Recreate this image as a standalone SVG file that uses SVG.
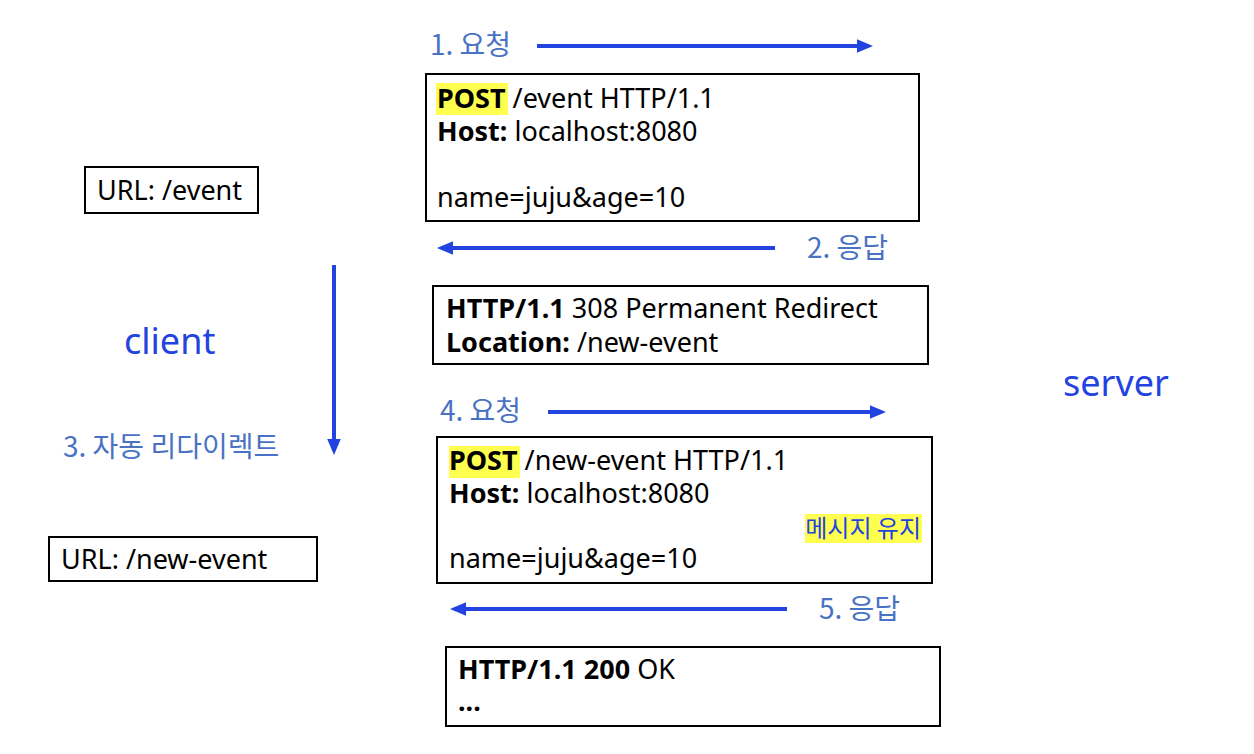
<svg xmlns="http://www.w3.org/2000/svg" width="1254" height="754" viewBox="0 0 1254 754">
<style>
text{font-family:"Noto Sans","Noto Sans CJK KR",sans-serif;}
.box{fill:#fff;stroke:#000;stroke-width:2;}
.t{font-size:27px;fill:#000;}
.b{font-weight:bold;}
.lbl{font-size:28px;fill:#4A72C4;font-family:"Noto Sans CJK KR","Noto Sans",sans-serif;}
.big{font-size:36px;fill:#2343E0;}
.hl{fill:#FFFF50;}
.arr{stroke:#2343E0;stroke-width:4;fill:none;marker-end:url(#ah);}
</style>
<defs>
<marker id="ah" markerWidth="4" markerHeight="3.4" refX="3" refY="1.7" orient="auto" markerUnits="strokeWidth">
<path d="M0,0 L4,1.7 L0,3.4 Z" fill="#2343E0"/>
</marker>
</defs>
<rect width="1254" height="754" fill="#fff"/>
<g id="connectors">
<line class="arr" x1="537" y1="46" x2="869" y2="46"/>
<line class="arr" x1="775" y1="248" x2="441" y2="248"/>
<line class="arr" x1="334" y1="265" x2="334" y2="451"/>
<line class="arr" x1="548" y1="412" x2="882" y2="412"/>
<line class="arr" x1="787" y1="609" x2="454" y2="609"/>
</g>
<g id="label1"><text class="lbl" x="430" y="55">1. 요청</text></g>
<g id="label2"><text class="lbl" x="807" y="258">2. 응답</text></g>
<g id="label3"><text class="lbl" x="63" y="457">3. 자동 리다이렉트</text></g>
<g id="label4"><text class="lbl" x="440" y="421">4. 요청</text></g>
<g id="label5"><text class="lbl" x="819" y="619">5. 응답</text></g>
<g id="client"><text class="big" x="124" y="354">client</text></g>
<g id="server"><text class="big" x="1063" y="396">server</text></g>
<g id="url1">
<rect class="box" x="85" y="167" width="173" height="46"/>
<text class="t" x="97" y="200">URL: /event</text>
</g>
<g id="url2">
<rect class="box" x="49" y="537" width="268" height="44"/>
<text class="t" x="61" y="569">URL: /new-event</text>
</g>
<g id="req1">
<rect class="box" x="426" y="74" width="493" height="147"/>
<rect class="hl" x="436" y="83" width="72" height="32"/>
<text class="t" x="437" y="108"><tspan class="b">POST</tspan> /event HTTP/1.1</text>
<text class="t" x="437" y="141"><tspan class="b">Host:</tspan> localhost:8080</text>
<text class="t" x="437" y="207">name=juju&amp;age=10</text>
</g>
<g id="res1">
<rect class="box" x="433" y="286" width="495" height="78"/>
<text class="t" x="446" y="318"><tspan class="b">HTTP/1.1</tspan> 308 Permanent Redirect</text>
<text class="t" x="446" y="352"><tspan class="b">Location:</tspan> /new-event</text>
</g>
<g id="req2">
<rect class="box" x="437" y="437" width="495" height="146"/>
<rect class="hl" x="449" y="446" width="71" height="32"/>
<text class="t" x="449" y="470"><tspan class="b">POST</tspan> /new-event HTTP/1.1</text>
<text class="t" x="449" y="503"><tspan class="b">Host:</tspan> localhost:8080</text>
<rect class="hl" x="805" y="514" width="117" height="29"/>
<text x="921" y="537" text-anchor="end" style="font-size:24px;fill:#2343E0;font-family:'Noto Sans CJK KR',sans-serif">메시지 유지</text>
<text class="t" x="449" y="568">name=juju&amp;age=10</text>
</g>
<g id="res2">
<rect class="box" x="446" y="647" width="494" height="79"/>
<text class="t" x="458" y="679"><tspan class="b">HTTP/1.1 200</tspan> OK</text>
<text class="t b" x="458" y="711">...</text>
</g>
</svg>
